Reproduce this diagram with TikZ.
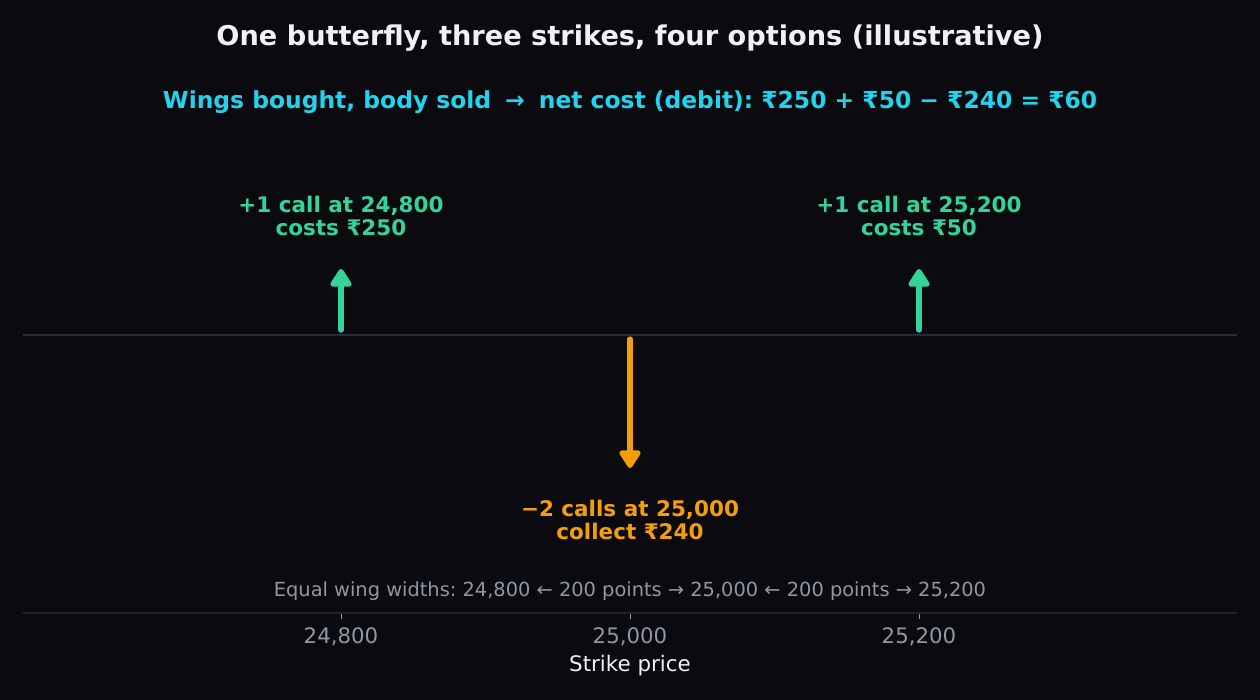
\documentclass[tikz,border=0pt]{standalone}
\usepackage{fontspec}
\setmainfont{DejaVu Sans}
\frenchspacing
\usetikzlibrary{arrows.meta}
\definecolor{bg}{HTML}{0B0B0F}
\definecolor{titlec}{HTML}{EEF2F6}
\definecolor{cyanc}{HTML}{22D3EE}
\definecolor{greenc}{HTML}{34D399}
\definecolor{orangec}{HTML}{F59E0B}
\definecolor{grayc}{HTML}{8E97A6}
\definecolor{linec}{HTML}{232D3A}
\definecolor{axisc}{HTML}{1E262F}
\tikzset{
  lbl/.style={align=center, font=\bfseries\fontsize{21.5}{23.5}\selectfont, inner sep=0pt},
  up/.style={line width=5.2pt, line cap=round, -{Triangle[width=24pt,length=20pt,round]}},
}
\begin{document}
\begin{tikzpicture}[x=1pt,y=-1pt]
\fill[bg] (0,0) rectangle (1260,700);
\useasboundingbox (0,0) rectangle (1260,700);
\node[text=titlec, font=\bfseries\fontsize{27.2}{30}\selectfont] (title) at (630,38) {One butterfly, three strikes, four options (illustrative)};
\node[text=cyanc, font=\bfseries\fontsize{23.4}{27}\selectfont] (sub) at (630,102.5) {Wings bought, body sold\hspace{0.6em}→\hspace{0.6em}net cost (debit): ₹250 + ₹50 − ₹240 = ₹60};
% zero line
\coordinate (zl) at (23,335);
\coordinate (zr) at (1237,335);
\draw[linec, line width=2.8pt] (zl) -- (zr);
% arrows
\coordinate (a1s) at (341,330); \coordinate (a1e) at (341,269);
\coordinate (a2s) at (919,330); \coordinate (a2e) at (919,269);
\coordinate (a3s) at (630,339); \coordinate (a3e) at (630,468);
\draw[up, greenc] (a1s) -- (a1e);
\draw[up, greenc] (a2s) -- (a2e);
\draw[up, orangec] (a3s) -- (a3e);
\node[lbl, text=greenc] (l1) at (341,216) {+1 call at 24,800\\costs ₹250};
\node[lbl, text=greenc] (l2) at (919,216) {+1 call at 25,200\\costs ₹50};
\node[lbl, text=orangec] (l3) at (630,520) {−2 calls at 25,000\\collect ₹240};
\node[text=grayc, font=\fontsize{19.4}{22}\selectfont] (note) at (630,591.5) {Equal wing widths: 24,800 ← 200 points → 25,000 ← 200 points → 25,200};
% axis
\coordinate (al) at (23,613);
\coordinate (ar) at (1237,613);
\draw[axisc, line width=1.5pt] (al) -- (ar);
\foreach \x/\t/\n in {341/{24,800}/t1, 630/{25,000}/t2, 919/{25,200}/t3}{
  \draw[grayc, line width=1pt] (\x,614) -- (\x,619);
  \node[text=grayc, font=\fontsize{21.3}{24}\selectfont] (\n) at (\x,637) {\t};
}
\node[text=titlec, font=\fontsize{21.4}{24}\selectfont] (xl) at (630,665.5) {Strike price};
\end{tikzpicture}
\end{document}
